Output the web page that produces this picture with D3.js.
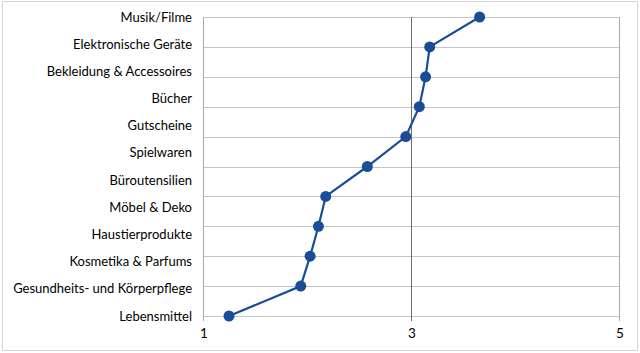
<!DOCTYPE html>
<html>
<head>
<meta charset="utf-8">
<script src="https://cdn.jsdelivr.net/npm/d3@7"></script>
<style>
  body { margin: 0; background: #fff; }
  text { font-family: Lato, "Open Sans", sans-serif; fill: #000; }
</style>
</head>
<body>
<div id="chart"></div>
<script>
// category labels, top to bottom
var categories = ["Musik/Filme", "Elektronische Geräte", "Bekleidung & Accessoires", "Bücher",
  "Gutscheine", "Spielwaren", "Büroutensilien", "Möbel & Deko", "Haustierprodukte",
  "Kosmetika & Parfums", "Gesundheits- und Körperpflege", "Lebensmittel"];

// mean values, one point per gridline row (top to bottom)
var values = [3.66, 3.18, 3.14, 3.08, 2.95, 2.58, 2.18, 2.11, 2.03, 1.94, 1.25];

var xTicks = [1, 3, 5];

var width = 640, height = 353;
var plotLeft = 203, plotRight = 619, plotTop = 17, plotBottom = 316;

var svg = d3.select("#chart").append("svg")
  .attr("width", width)
  .attr("height", height);

//chart frame
svg.append("rect")
  .attr("x", 2.5).attr("y", 1.5)
  .attr("width", 635).attr("height", 349)
  .attr("fill", "#fff")
  .attr("stroke", "#d4d4d4");

var x = d3.scaleLinear().domain([1, 5]).range([plotLeft, plotRight]);

//rows for the points (gridlines)
var rows = d3.range(values.length);
var y = d3.scaleLinear().domain([0, values.length - 1]).range([plotTop, plotBottom]);

//labels are spread evenly over the same height
var yLab = d3.scalePoint().domain(categories).range([plotTop, plotBottom]);

//horizontal gridlines
svg.append("g").selectAll("line")
  .data(rows)
  .enter().append("line")
    .attr("x1", plotLeft).attr("x2", plotRight)
    .attr("y1", function (d) { return Math.round(y(d)) + 0.5; })
    .attr("y2", function (d) { return Math.round(y(d)) + 0.5; })
    .attr("stroke", "#c4c4c4")
    .attr("stroke-width", 1);

//vertical lines at the ticks
svg.append("g").selectAll("line")
  .data(xTicks)
  .enter().append("line")
    .attr("x1", function (d) { return Math.round(x(d)) + 0.5; })
    .attr("x2", function (d) { return Math.round(x(d)) + 0.5; })
    .attr("y1", plotTop).attr("y2", plotBottom + 5)
    .attr("stroke", function (d) { return d == 3 ? "#6e6e6e" : "#a8a8a8"; })
    .attr("stroke-width", 1);

//x tick labels
svg.append("g").selectAll("text")
  .data(xTicks)
  .enter().append("text")
    .attr("x", function (d) { return x(d) + 1; })
    .attr("y", 338)
    .attr("text-anchor", "middle")
    .attr("font-size", 13.5)
    .text(function (d) { return d; });

//category labels
svg.append("g").selectAll("text")
  .data(categories)
  .enter().append("text")
    .attr("x", 192)
    .attr("y", function (d) { return yLab(d); })
    .attr("dy", "0.35em")
    .attr("text-anchor", "end")
    .attr("font-size", 13)
    .text(function (d) { return d; });

//line + markers
var line = d3.line()
  .x(function (d) { return x(d); })
  .y(function (d, i) { return y(i); });

svg.append("path")
  .datum(values)
  .attr("d", line)
  .attr("fill", "none")
  .attr("stroke", "#1a4c98")
  .attr("stroke-width", 2.2);

svg.append("g").selectAll("circle")
  .data(values)
  .enter().append("circle")
    .attr("cx", function (d) { return x(d); })
    .attr("cy", function (d, i) { return y(i); })
    .attr("r", 5.5)
    .attr("fill", "#1a4c98");
</script>
</body>
</html>
